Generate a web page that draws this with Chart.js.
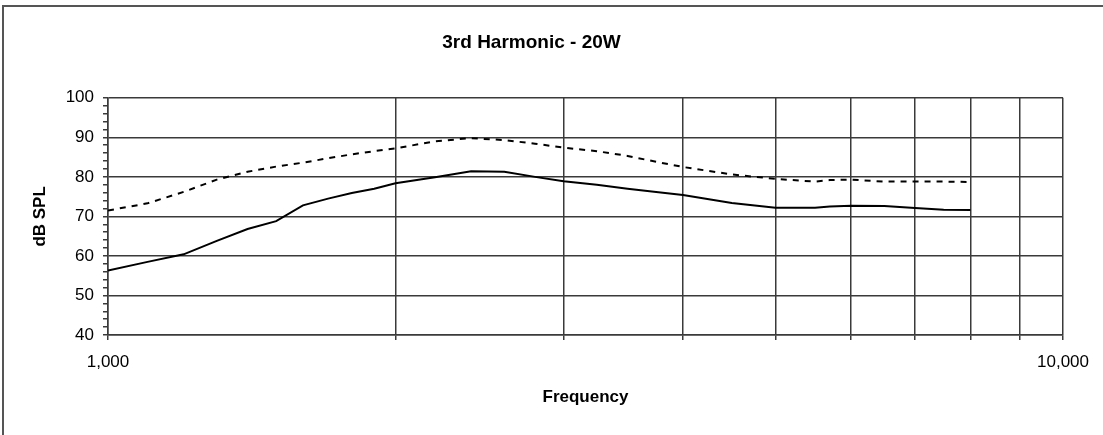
<!DOCTYPE html>
<html lang="en">
<head>
  <meta charset="UTF-8" />
  <title>3rd Harmonic - 20W</title>
  <style>
    body { margin: 0; background: #fff; }
    #wrap { position: relative; width: 1103px; height: 435px; }
  </style>
</head>
<body>
<div id="wrap"><canvas id="harmonicChart" width="1103" height="435"></canvas></div>

<script src="https://cdn.jsdelivr.net/npm/chart.js@4.4.3"></script>
<script>
  // frequencies (Hz)
  const freqs = [1000, 1100, 1200, 1300, 1400, 1500, 1600, 1700, 1800, 1900, 2000, 2200, 2400, 2600, 2800,
                 3000, 3250, 3500, 3750, 4000, 4500, 5000, 5500, 5700, 6000, 6500, 7000, 7500, 8000];
  // upper, dashed trace (dB SPL)
  const dashedSpl = [71.5, 73.3, 76.2, 79.3, 81.3, 82.6, 83.6, 84.7, 85.7, 86.5, 87.2, 89.0, 89.8, 89.3, 88.4,
                     87.4, 86.5, 85.3, 83.8, 82.5, 80.6, 79.5, 78.8, 79.2, 79.3, 78.8, 78.8, 78.8, 78.7];
  // lower, solid trace (dB SPL)
  const solidSpl = [56.3, 58.5, 60.4, 63.8, 66.8, 68.8, 72.8, 74.5, 75.9, 77.0, 78.4, 79.9, 81.4, 81.3, 80.0,
                    78.9, 78.0, 77.0, 76.2, 75.4, 73.4, 72.2, 72.2, 72.5, 72.7, 72.6, 72.1, 71.7, 71.6];
  // x gridlines and the two labelled ones
  const xGridTicks = [1000, 2000, 3000, 4000, 5000, 6000, 7000, 8000, 9000, 10000];
  const xTickLabels = { 1000: '1,000', 10000: '10,000' };

  const gridCol = '#3a3a3a';
  const frame = {
    id: 'frame',
    beforeDraw(chart) {
      const c = chart.ctx;
      c.save();
      c.fillStyle = '#fff';
      c.fillRect(0, 0, chart.width, chart.height);
      c.strokeStyle = '#555';
      c.lineWidth = 2;
      c.beginPath();
      c.moveTo(3, chart.height);
      c.lineTo(3, 6);
      c.lineTo(chart.width, 6);
      c.stroke();
      c.restore();
    }
  };

  new Chart(document.getElementById('harmonicChart'), {
    type: 'line',
    data: {
      datasets: [{
        data: freqs.map((f, i) => ({ x: f, y: dashedSpl[i] })),
        borderColor: '#000',
        borderWidth: 2,
        borderDash: [6, 6],
        pointRadius: 0,
        tension: 0
      }, {
        data: freqs.map((f, i) => ({ x: f, y: solidSpl[i] })),
        borderColor: '#000',
        borderWidth: 2,
        pointRadius: 0,
        tension: 0
      }]
    },
    options: {
      responsive: false,
      animation: false,
      layout: { padding: { left: 0, right: 40, top: 0, bottom: 0 } },
      plugins: {
        legend: { display: false },
        tooltip: { enabled: false },
        title: {
          display: true,
          text: '3rd Harmonic - 20W',
          color: '#000',
          font: { family: 'Liberation Sans', size: 19, weight: 'bold' },
          padding: { top: 31, bottom: 44 }
        }
      },
      scales: {
        x: {
          type: 'logarithmic',
          min: 1000,
          max: 10000,
          afterBuildTicks: s => { s.ticks = xGridTicks.map(v => ({ value: v })); },
          afterFit: s => { s.height = 100; },
          border: { display: true, color: gridCol, width: 1.5 },
          grid: { color: gridCol, lineWidth: 1.5, tickLength: 5, tickColor: gridCol },
          ticks: {
            autoSkip: false,
            maxRotation: 0,
            padding: 12,
            color: '#000',
            font: { family: 'Liberation Sans', size: 17 },
            callback: v => xTickLabels[v] || ''
          },
          title: {
            display: true,
            text: 'Frequency',
            color: '#000',
            font: { family: 'Liberation Sans', size: 17, weight: 'bold' },
            padding: { top: 0, bottom: 27 }
          }
        },
        y: {
          min: 40,
          max: 100,
          afterFit: s => { s.width = 108; },
          border: { display: true, color: gridCol, width: 1.5 },
          grid: {
            color: c => c.tick.value % 10 === 0 ? gridCol : 'transparent',
            lineWidth: 1.5,
            tickLength: 5,
            tickColor: gridCol
          },
          ticks: {
            stepSize: 2,
            autoSkip: false,
            padding: 9,
            color: '#000',
            font: { family: 'Liberation Sans', size: 17 },
            callback: v => v % 10 === 0 ? String(v) : ''
          },
          title: {
            display: true,
            text: 'dB SPL',
            color: '#000',
            font: { family: 'Liberation Sans', size: 17, weight: 'bold' },
            padding: { top: 30, bottom: 0 }
          }
        }
      }
    },
    plugins: [frame]
  });
</script>
</body>
</html>
